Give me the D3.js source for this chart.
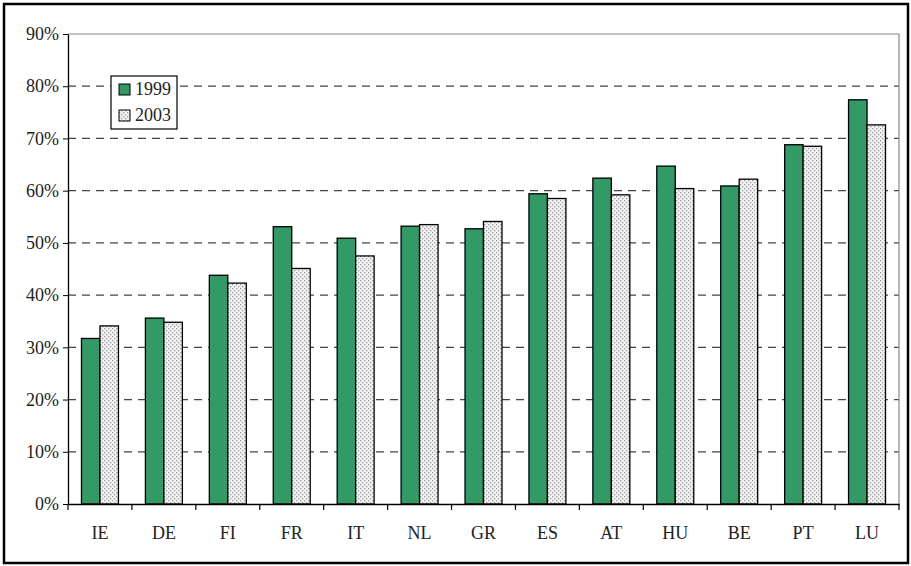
<!DOCTYPE html>
<html><head><meta charset="utf-8">
<script src="https://cdn.jsdelivr.net/npm/d3@7"></script>
<style>body{margin:0;background:#fff}svg{display:block}svg text{font-family:'Liberation Serif','Times New Roman','DejaVu Serif',serif !important;fill:#222}</style>
</head><body><svg id="c" width="911" height="566"></svg>
<script>
const categories = ["IE","DE","FI","FR","IT","NL","GR","ES","AT","HU","BE","PT","LU"];
const series1999 = [31.7,35.6,43.8,53.1,50.9,53.2,52.7,59.4,62.4,64.7,60.9,68.8,77.4];
const series2003 = [34.1,34.8,42.3,45.1,47.5,53.5,54.1,58.5,59.2,60.4,62.2,68.5,72.6];
const seriesNames = ["1999","2003"];
const yTicks = [0,10,20,30,40,50,60,70,80,90];

const svg = d3.select("#c");
const defs = svg.append("defs");
const pat = defs.append("pattern").attr("id","dots").attr("patternUnits","userSpaceOnUse").attr("width",4).attr("height",4);
pat.append("rect").attr("width",4).attr("height",4).attr("fill","#f4f4f4");
pat.append("rect").attr("x",0).attr("y",0).attr("width",1.3).attr("height",1.3).attr("fill","#9a9a9a");
pat.append("rect").attr("x",2).attr("y",2).attr("width",1.3).attr("height",1.3).attr("fill","#9a9a9a");

// outer border
svg.append("rect").attr("x",4).attr("y",4).attr("width",904).attr("height",559).attr("fill","none").attr("stroke","#000").attr("stroke-width",2.5);

const L=68, R=899, T=34, B=504;
const x = d3.scaleBand().domain(categories).range([L,R]);
const y = d3.scaleLinear().domain([0,90]).range([B,T]);
const bw = x.bandwidth()/(2+1.46);

// gridlines
svg.append("g").selectAll("line").data(yTicks.filter(d=>d>0 && d<90)).join("line")
  .attr("x1",L).attr("x2",R).attr("y1",d=>y(d)).attr("y2",d=>y(d))
  .attr("stroke","#444").attr("stroke-width",1.2).attr("stroke-dasharray","8,6");
// top and right plot border
svg.append("path").attr("d",`M${L},${T}H${R}V${B}`).attr("fill","none").attr("stroke","#888").attr("stroke-width",1.2);

const data = categories.map((c,i)=>({c, v:[series1999[i],series2003[i]]}));
const g = svg.append("g");
[0,1].forEach(k=>{
  g.selectAll(".b"+k).data(data).join("rect")
    .attr("x",d=>x(d.c)+x.bandwidth()/2 - bw + k*bw)
    .attr("y",d=>y(d.v[k]))
    .attr("width",bw).attr("height",d=>B-y(d.v[k]))
    .attr("fill",k===0?"#339966":"url(#dots)")
    .attr("stroke","#000").attr("stroke-width",1.3);
});

// y axis
const ya = svg.append("g").attr("transform",`translate(${L},0)`)
  .call(d3.axisLeft(y).tickValues(yTicks).tickFormat(d=>d+"%").tickSize(5).tickSizeOuter(0));
ya.attr("font-family",null);
ya.select(".domain").attr("stroke","#000").attr("stroke-width",1.3);
ya.selectAll(".tick line").attr("stroke","#000");
ya.selectAll("text").attr("font-size",18).attr("x",-9).attr("fill","#222");

// x axis
const xa = svg.append("g").attr("transform",`translate(0,${B})`)
  .call(d3.axisBottom(x).tickSize(0).tickSizeOuter(0));
xa.attr("font-family",null);
xa.select(".domain").attr("stroke","#000").attr("stroke-width",1.3);
xa.selectAll("text").attr("font-size",18).attr("y",22).attr("fill","#222");
// category boundary ticks
xa.append("g").selectAll("line").data(categories.concat(["_end"])).join("line")
  .attr("x1",(d,i)=>i<categories.length?x(d):R).attr("x2",(d,i)=>i<categories.length?x(d):R)
  .attr("y1",0).attr("y2",6).attr("stroke","#000").attr("stroke-width",1.2);

// legend
const lg = svg.append("g").attr("transform","translate(111,76)");
lg.append("rect").attr("width",66).attr("height",53).attr("fill","#fff").attr("stroke","#000").attr("stroke-width",1.2);
seriesNames.forEach((n,i)=>{
  lg.append("rect").attr("x",8).attr("y",8+i*26).attr("width",11).attr("height",11)
    .attr("fill",i===0?"#339966":"url(#dots)").attr("stroke","#000").attr("stroke-width",1);
  lg.append("text").attr("x",24).attr("y",19+i*26).attr("font-size",18).text(n);
});
</script></body></html>
